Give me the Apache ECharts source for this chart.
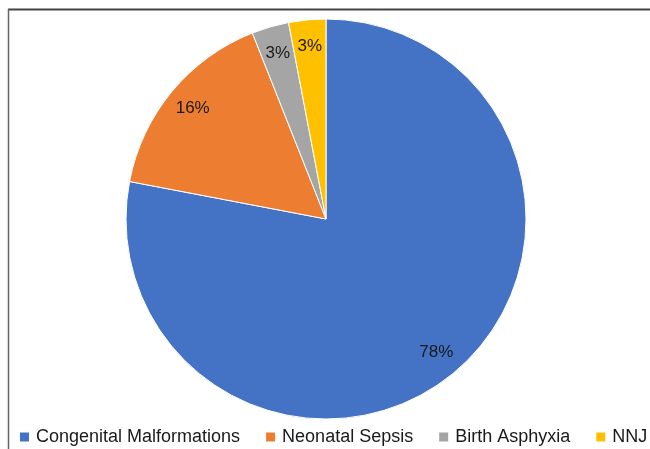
<!DOCTYPE html>
<html>
<head>
<meta charset="utf-8">
<script src="https://cdn.jsdelivr.net/npm/echarts@6/dist/echarts.min.js"></script>
<style>
  html, body { margin: 0; padding: 0; background: #fff; }
  #main { width: 650px; height: 449px; }
</style>
</head>
<body>
<div id="main"></div>
<script>
// data
const causes = ['Congenital Malformations', 'Neonatal Sepsis', 'Birth Asphyxia', 'NNJ']
const shares = [78, 16, 3, 3]
const colors = ['#4472C4', '#ED7D31', '#A5A5A5', '#FFC000']

const pieData = causes.map((name, i) => ({ name: name, value: shares[i] }))

const myChart = echarts.init(document.getElementById('main'))
myChart.setOption({
  color: colors,
  animation: false,
  legend: {
    left: 20,
    top: 428,
    width: 630,
    padding: 0,
    itemWidth: 9,
    itemHeight: 9,
    itemGap: 26,
    icon: 'rect',
    itemStyle: { borderWidth: 0 },
    textStyle: {
      fontFamily: 'Liberation Sans',
      fontSize: 18,
      color: '#1a1a1a',
      padding: [0, 0, 0, 2]
    },
    data: causes
  },
  graphic: [
    { type: 'line', shape: { x1: 8, y1: 9.5, x2: 650, y2: 9.5 }, style: { stroke: '#444', lineWidth: 2 } },
    { type: 'line', shape: { x1: 8.5, y1: 9, x2: 8.5, y2: 449 }, style: { stroke: '#666', lineWidth: 1.5 } }
  ],
  series: [
    {
      // the slices
      type: 'pie',
      center: [326, 219],
      radius: [0, 200],
      startAngle: 90,
      clockwise: true,
      label: { show: false },
      labelLine: { show: false },
      itemStyle: { borderColor: '#fff', borderWidth: 1 },
      data: pieData
    },
    {
      // transparent ring, only to place the percent labels near the rim
      type: 'pie',
      center: [326, 219],
      radius: [140, 200],
      startAngle: 90,
      clockwise: true,
      silent: true,
      itemStyle: { color: 'transparent' },
      label: {
        show: true,
        position: 'inside',
        formatter: '{c}%',
        fontFamily: 'Liberation Sans',
        fontSize: 17,
        color: '#1a1a1a'
      },
      labelLine: { show: false },
      data: pieData
    }
  ]
})
</script>
</body>
</html>
